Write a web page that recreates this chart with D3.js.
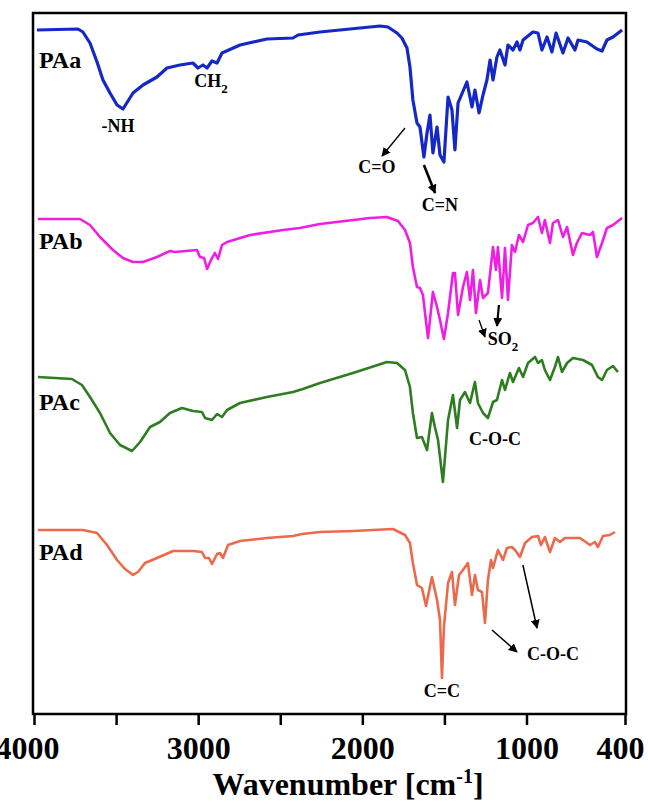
<!DOCTYPE html>
<html>
<head>
  <title>FTIR spectra PAa-PAd</title>
  <style>
    body { margin: 0; background: #fff; }
    text { font-family: "Liberation Serif", "Times New Roman", serif; font-weight: bold; fill: #000; }
  </style>
</head>
<body>
  <svg id="chart"></svg>

  <script src="https://d3js.org/d3.v7.min.js"></script>
  <script>
    // spectra: [wavenumber, intensity (a.u., stacked)]
    const paA = [
      [3982, 684], [3732, 685], [3702, 682], [3659, 671], [3616, 652], [3580, 634], [3537, 621],
      [3494, 609], [3458, 605], [3397, 621], [3336, 629], [3251, 637], [3190, 646],
      [3111, 649], [3032, 651], [3001, 646], [2971, 649], [2946, 646], [2916, 653], [2885, 651],
      [2855, 661], [2745, 669], [2581, 675], [2422, 676], [2392, 679], [2258, 682], [1892, 688],
      [1844, 687], [1789, 681], [1759, 676], [1728, 666], [1710, 647], [1692, 614], [1667, 591],
      [1649, 587], [1625, 557], [1606, 581], [1588, 599], [1570, 561], [1545, 587], [1527, 559],
      [1503, 552], [1478, 617], [1454, 604], [1436, 564], [1417, 611], [1363, 632], [1332, 607],
      [1314, 624], [1289, 601], [1265, 619], [1241, 634], [1222, 654], [1204, 634], [1180, 657],
      [1162, 664], [1131, 649], [1113, 669], [1082, 664], [1058, 672], [1040, 664], [1021, 674],
      [961, 682], [930, 681], [906, 664], [875, 677], [845, 662], [820, 681], [778, 661],
      [747, 676], [705, 664], [686, 674], [632, 672], [571, 665], [540, 663], [510, 674],
      [473, 677], [418, 684]
    ];
    const paB = [
      [3976, 495], [3720, 495], [3659, 489], [3598, 477], [3519, 464], [3458, 456], [3397, 452],
      [3336, 452], [3251, 457], [3172, 463], [3141, 462], [3007, 464], [2989, 457], [2964, 456],
      [2946, 445], [2922, 454], [2898, 461], [2879, 455], [2855, 469], [2824, 472], [2684, 479],
      [2483, 484], [2380, 486], [2258, 490], [1953, 496], [1850, 497], [1783, 493], [1740, 484],
      [1710, 471], [1692, 447], [1667, 427], [1649, 426], [1631, 419], [1600, 376], [1570, 422],
      [1545, 407], [1527, 394], [1503, 375], [1478, 401], [1448, 441], [1436, 441], [1417, 399],
      [1387, 427], [1363, 442], [1344, 414], [1326, 444], [1308, 401], [1283, 434], [1265, 416],
      [1235, 421], [1204, 467], [1186, 444], [1174, 467], [1149, 416], [1131, 466], [1113, 414],
      [1089, 469], [1070, 462], [1046, 479], [1021, 472], [991, 489], [961, 491], [930, 497],
      [906, 481], [888, 494], [857, 471], [839, 491], [808, 494], [778, 477], [753, 487],
      [717, 459], [693, 471], [662, 481], [613, 479], [595, 482], [571, 457], [540, 471],
      [510, 486], [473, 489], [418, 496]
    ];
    const paC = [
      [3976, 337], [3769, 335], [3708, 329], [3659, 317], [3598, 301], [3537, 281], [3476, 269],
      [3403, 263], [3354, 272], [3293, 287], [3233, 292], [3172, 301], [3099, 306], [3032, 303],
      [2977, 302], [2958, 296], [2916, 294], [2885, 300], [2855, 297], [2824, 304], [2745, 311],
      [2581, 317], [2422, 322], [2362, 325], [2258, 331], [2057, 341], [1850, 352], [1789, 351],
      [1740, 344], [1710, 327], [1692, 301], [1667, 276], [1637, 277], [1606, 264], [1576, 301],
      [1558, 287], [1539, 274], [1509, 232], [1478, 294], [1448, 319], [1423, 286], [1405, 314],
      [1375, 322], [1344, 311], [1314, 332], [1296, 311], [1265, 301], [1235, 296], [1204, 312],
      [1180, 314], [1149, 334], [1131, 324], [1101, 341], [1082, 332], [1046, 346], [1021, 337],
      [991, 351], [948, 357], [930, 351], [906, 354], [888, 344], [857, 334], [827, 347],
      [808, 357], [784, 342], [753, 351], [717, 356], [656, 354], [601, 349], [565, 337],
      [540, 334], [510, 344], [473, 348], [443, 342]
    ];
    const paD = [
      [3976, 184], [3702, 184], [3616, 181], [3555, 169], [3494, 154], [3446, 145], [3397, 139],
      [3367, 142], [3324, 151], [3251, 156], [3153, 163], [3032, 163], [2977, 162], [2958, 156],
      [2934, 156], [2916, 150], [2885, 160], [2867, 161], [2849, 156], [2818, 169], [2745, 173],
      [2581, 176], [2422, 178], [2368, 180], [2258, 182], [2057, 183], [1813, 185], [1740, 179],
      [1710, 171], [1692, 151], [1667, 129], [1637, 126], [1612, 108], [1576, 137], [1545, 114],
      [1527, 94], [1515, 36], [1503, 87], [1478, 131], [1454, 142], [1436, 109], [1411, 139],
      [1387, 144], [1357, 151], [1332, 119], [1314, 139], [1296, 124], [1271, 122], [1253, 91],
      [1235, 134], [1216, 154], [1204, 146], [1174, 164], [1143, 154], [1119, 166], [1089, 167],
      [1070, 164], [1040, 157], [1009, 171], [967, 177], [930, 178], [912, 169], [888, 177],
      [857, 162], [827, 176], [796, 172], [766, 176], [674, 176], [613, 169], [583, 172],
      [565, 167], [534, 178], [492, 179], [461, 182]
    ];

    const seriesNames = ['PAa', 'PAb', 'PAc', 'PAd'];
    const seriesData = [paA, paB, paC, paD];
    const seriesColors = ['#1428c8', '#ef1fe2', '#2e7d20', '#ec6a4c'];
    const seriesWidths = [3.2, 2.6, 2.6, 2.6];
    // where each name label sits: [wavenumber, intensity]
    const nameAnchors = [[3970, 646], [3970, 465], [3970, 304], [3970, 154]];

    const tickValues = [4000, 3500, 3000, 2500, 2000, 1500, 1000, 400];
    const tickLabels = ['4000', '', '3000', '', '2000', '', '1000', '400'];

    // band labels: text, sub, wavenumber, intensity
    const bandLabels = [
      ['-NH', '', 3488, 582],
      ['CH', '2', 2922, 627],
      ['C=O', '', 1911, 541],
      ['C=N', '', 1527, 503],
      ['SO', '2', 1143, 369],
      ['C-O-C', '', 1192, 269],
      ['C=C', '', 1515, 17],
      ['C-O-C', '', 839, 54]
    ];
    // arrows: from [w, v] to [w, v], stroke width
    const arrows = [
      [[1740, 586], [1880, 558], 1.3],
      [[1625, 549], [1557, 521], 2.6],
      [[1289, 394], [1253, 377], 1.3],
      [[1168, 409], [1180, 388], 2.2],
      [[1210, 84], [1058, 62], 1.5],
      [[1022, 149], [936, 86], 1.5]
    ];

    const W = 648, H = 804;
    const plot = { left: 33, right: 626, top: 13, bottom: 714 };

    const svg = d3.select('#chart').attr('width', W).attr('height', H);

    const x = d3.scaleLinear().domain([4000, 400]).range([34, 625]);
    const y = d3.scaleLinear().domain([0, 701]).range([plot.bottom, plot.top]);

    // arrow head
    svg.append('defs').append('marker')
      .attr('id', 'head')
      .attr('viewBox', '0 0 10 10')
      .attr('refX', 9).attr('refY', 5)
      .attr('markerWidth', 9).attr('markerHeight', 9)
      .attr('markerUnits', 'userSpaceOnUse')
      .attr('orient', 'auto')
      .append('path').attr('d', 'M0,0 L10,5 L0,10 z').attr('fill', '#000');

    const line = d3.line().x(d => x(d[0])).y(d => y(d[1]));

    seriesData.forEach((data, i) => {
      svg.append('path')
        .datum(data)
        .attr('fill', 'none')
        .attr('stroke', seriesColors[i])
        .attr('stroke-width', seriesWidths[i])
        .attr('stroke-linejoin', 'round')
        .attr('d', line);

      svg.append('text')
        .attr('x', x(nameAnchors[i][0]))
        .attr('y', y(nameAnchors[i][1]))
        .attr('font-size', 24)
        .text(seriesNames[i]);
    });

    // band labels
    bandLabels.forEach(b => {
      const t = svg.append('text')
        .attr('x', x(b[2]))
        .attr('y', y(b[3]))
        .attr('font-size', 18)
        .attr('text-anchor', 'middle')
        .text(b[0]);
      if (b[1]) {
        t.append('tspan').attr('font-size', 13).attr('dy', 6).text(b[1]);
      }
    });

    arrows.forEach(a => {
      svg.append('line')
        .attr('x1', x(a[0][0])).attr('y1', y(a[0][1]))
        .attr('x2', x(a[1][0])).attr('y2', y(a[1][1]))
        .attr('stroke', '#000')
        .attr('stroke-width', a[2])
        .attr('marker-end', 'url(#head)');
    });

    // frame
    svg.append('rect')
      .attr('x', plot.left).attr('y', plot.top)
      .attr('width', plot.right - plot.left)
      .attr('height', plot.bottom - plot.top)
      .attr('fill', 'none')
      .attr('stroke', '#000')
      .attr('stroke-width', 2.5);

    // x axis
    const axis = svg.append('g')
      .attr('transform', `translate(0,${plot.bottom})`)
      .call(d3.axisBottom(x)
        .tickValues(tickValues)
        .tickFormat((d, i) => tickLabels[i])
        .tickSize(11)
        .tickPadding(11));
    axis.select('.domain').remove();
    axis.selectAll('.tick line').attr('stroke', '#000').attr('stroke-width', 2.5);
    axis.selectAll('.tick text')
      .attr('font-size', 32)
      .attr('font-family', '"Liberation Serif", serif')
      .attr('font-weight', 'bold')
      .attr('fill', '#000')
      .attr('dx', (d, i) => i === 0 ? -7 : (i === tickValues.length - 1 ? -5 : 0));

    const title = svg.append('text')
      .attr('x', 348)
      .attr('y', 795)
      .attr('font-size', 32)
      .attr('text-anchor', 'middle')
      .text('Wavenumber [cm');
    title.append('tspan').attr('font-size', 20).attr('dy', -12).text('-1');
    title.append('tspan').attr('dy', 12).text(']');
  </script>
</body>
</html>
